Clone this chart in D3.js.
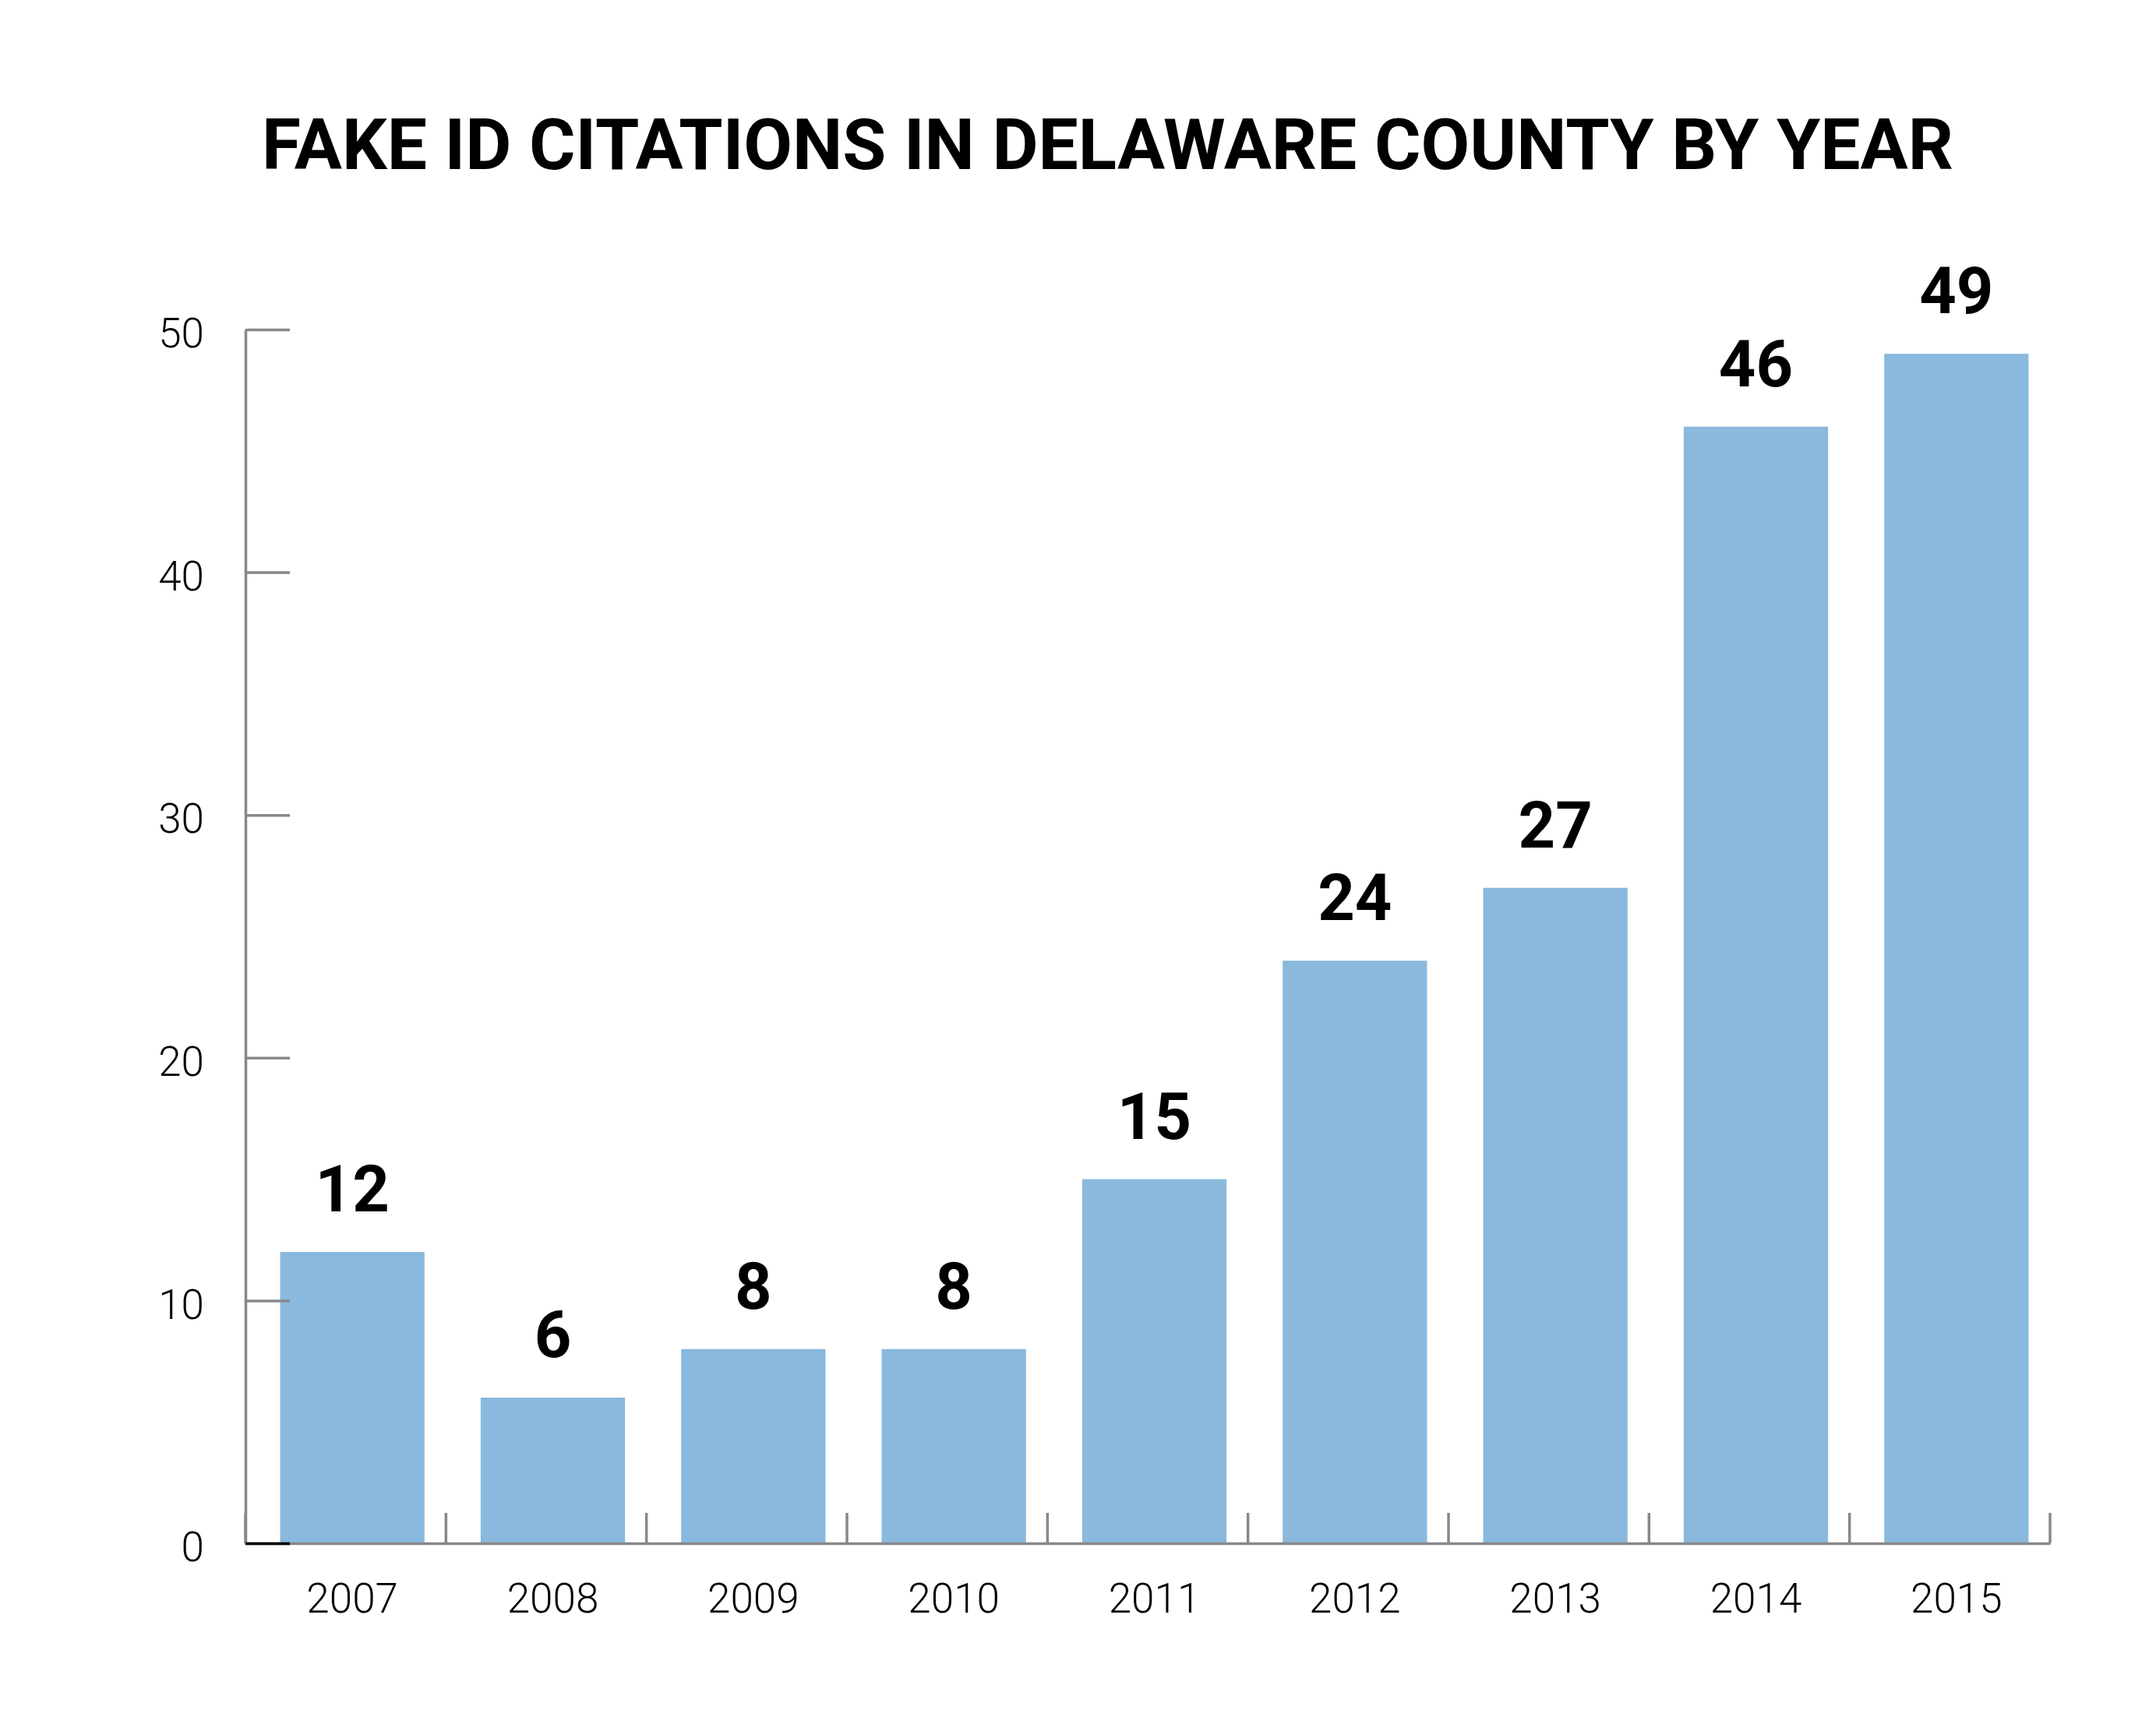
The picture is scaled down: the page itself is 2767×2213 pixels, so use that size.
<!DOCTYPE html>
<html>
<head>
<meta charset="utf-8">
<script src="https://cdn.jsdelivr.net/npm/d3@7"></script>
<style>
  body { margin: 0; background: #fff; }
</style>
</head>
<body>
<div id="chart"></div>
<script>
const years = ["2007", "2008", "2009", "2010", "2011", "2012", "2013", "2014", "2015"];
const citations = [12, 6, 8, 8, 15, 24, 27, 46, 49];
const yTicks = [0, 10, 20, 30, 40, 50];
const title = "FAKE ID CITATIONS IN DELAWARE COUNTY BY YEAR";

const data = years.map((y, i) => ({ year: y, value: citations[i] }));

const width = 2767, height = 2213;
const axisColor = "#88888b";
const barColor = "#8ab9dd";

const svg = d3.select("#chart")
    .append("svg")
    .attr("width", width)
    .attr("height", height);

svg.append("rect")
    .attr("width", width)
    .attr("height", height)
    .attr("fill", "#fff");

// title
svg.append("text")
    .attr("x", 1421.5)
    .attr("y", 217)
    .attr("text-anchor", "middle")
    .attr("textLength", 2171)
    .attr("lengthAdjust", "spacingAndGlyphs")
    .style("font-family", "Roboto, 'DejaVu Sans', sans-serif")
    .style("font-weight", 700)
    .style("font-size", "91px")
    .attr("fill", "#000")
    .text(title);

const xScale = d3.scaleBand()
    .domain(years)
    .range([315, 2631])
    .padding(0);

const yScale = d3.scaleLinear()
    .domain([0, 50])
    .range([1981, 423]);

const bw = xScale.bandwidth();
const barX = d => xScale(d.year) + bw * 0.173;
const barW = bw * 0.72;

// bars
svg.selectAll(".bar")
    .data(data)
    .enter()
    .append("rect")
    .attr("class", "bar")
    .attr("x", barX)
    .attr("y", d => yScale(d.value))
    .attr("width", barW)
    .attr("height", d => yScale(0) - yScale(d.value))
    .attr("fill", barColor);

// value labels
svg.selectAll(".value-label")
    .data(data)
    .enter()
    .append("text")
    .attr("class", "value-label")
    .attr("x", d => barX(d) + barW / 2)
    .attr("y", d => yScale(d.value) - 52)
    .attr("text-anchor", "middle")
    .style("font-family", "Roboto, sans-serif")
    .style("font-weight", 700)
    .style("font-size", "83px")
    .attr("fill", "#000")
    .text(d => d.value);

// x axis: labels under bars, boundary ticks drawn separately
const xAxis = d3.axisBottom(xScale)
    .tickSize(0)
    .tickPadding(51);

const gx = svg.append("g")
    .attr("transform", `translate(0,${yScale(0)})`)
    .call(xAxis);

gx.select(".domain")
    .attr("stroke", axisColor)
    .attr("stroke-width", 3.5);

gx.selectAll(".tick text")
    .attr("x", bw * 0.173 + barW / 2 - bw / 2)
    .style("font-family", "Roboto, sans-serif")
    .style("font-weight", 300)
    .style("font-size", "53px")
    .attr("fill", "#000");

const bounds = years.map(y => xScale(y)).concat([xScale.range()[1]]);
svg.selectAll(".x-bound")
    .data(bounds)
    .enter()
    .append("line")
    .attr("class", "x-bound")
    .attr("x1", d => d)
    .attr("x2", d => d)
    .attr("y1", yScale(0))
    .attr("y2", yScale(0) - 39)
    .attr("stroke", axisColor)
    .attr("stroke-width", 3.5);

// y axis
const yAxis = d3.axisLeft(yScale)
    .tickValues(yTicks)
    .tickSizeInner(-57)
    .tickSizeOuter(0)
    .tickPadding(53);

const gy = svg.append("g")
    .attr("transform", `translate(${xScale.range()[0]},0)`)
    .call(yAxis);

gy.select(".domain")
    .attr("stroke", axisColor)
    .attr("stroke-width", 3.5);

gy.selectAll(".tick line")
    .attr("stroke", d => d === 0 ? "#000" : axisColor)
    .attr("stroke-width", 3.5);

gy.selectAll(".tick text")
    .attr("dy", "0.43em")
    .style("font-family", "Roboto, sans-serif")
    .style("font-weight", 300)
    .style("font-size", "53px")
    .attr("fill", "#000");
</script>
</body>
</html>
